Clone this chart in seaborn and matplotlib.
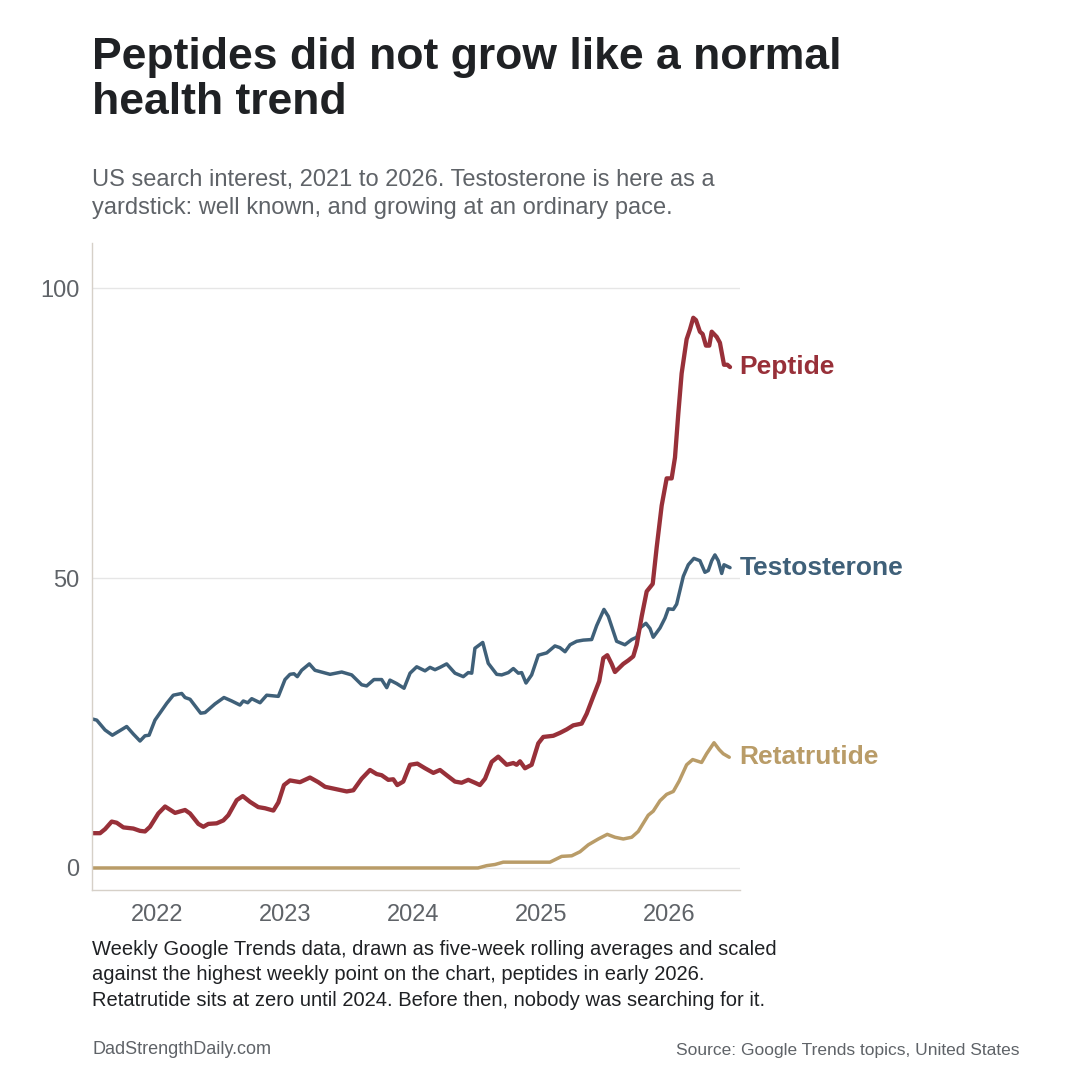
import pandas as pd
import matplotlib.pyplot as plt
import seaborn as sns
from matplotlib import font_manager

# --- Data (x in decimal years, y = search interest) ---

testo_year = [2021.494, 2021.529, 2021.594, 2021.651, 2021.711, 2021.763, 2021.815, 2021.867,
              2021.906, 2021.938, 2021.984, 2022.076, 2022.127, 2022.193, 2022.219, 2022.258,
              2022.341, 2022.375, 2022.453, 2022.523, 2022.584, 2022.648, 2022.674, 2022.709,
              2022.740, 2022.805, 2022.857, 2022.948, 2023.000, 2023.039, 2023.070, 2023.096,
              2023.130, 2023.190, 2023.234, 2023.352, 2023.443, 2023.521, 2023.599, 2023.638,
              2023.695, 2023.755, 2023.795, 2023.820, 2023.873, 2023.930, 2023.977, 2024.029,
              2024.094, 2024.133, 2024.172, 2024.211, 2024.263, 2024.328, 2024.393, 2024.432,
              2024.459, 2024.484, 2024.545, 2024.588, 2024.654, 2024.693, 2024.745, 2024.784,
              2024.823, 2024.849, 2024.883, 2024.927, 2024.979, 2025.045, 2025.109, 2025.148,
              2025.188, 2025.227, 2025.279, 2025.330, 2025.396, 2025.435, 2025.492, 2025.526,
              2025.591, 2025.656, 2025.709, 2025.748, 2025.773, 2025.820, 2025.852, 2025.877,
              2025.930, 2025.969, 2025.995, 2026.034, 2026.060, 2026.112, 2026.151, 2026.195,
              2026.242, 2026.281, 2026.307, 2026.334, 2026.359, 2026.385, 2026.412, 2026.430,
              2026.477]
testo_val = [25.7, 25.5, 23.8, 22.9, 23.7, 24.4, 23.1, 21.9,
             22.8, 22.9, 25.5, 28.4, 29.8, 30.1, 29.4, 29.1,
             26.7, 26.8, 28.3, 29.4, 28.8, 28.1, 28.8, 28.5,
             29.2, 28.5, 29.8, 29.6, 32.5, 33.4, 33.5, 33.0,
             34.1, 35.2, 34.1, 33.4, 33.8, 33.3, 31.6, 31.4,
             32.5, 32.5, 31.1, 32.4, 31.8, 31.0, 33.6, 34.7,
             34.0, 34.6, 34.2, 34.6, 35.2, 33.6, 33.0, 33.7,
             33.6, 37.9, 38.9, 35.3, 33.4, 33.3, 33.7, 34.4,
             33.6, 33.7, 31.9, 33.3, 36.7, 37.1, 38.3, 38.0,
             37.3, 38.5, 39.1, 39.3, 39.4, 41.8, 44.6, 43.4,
             39.1, 38.5, 39.4, 39.8, 41.4, 42.2, 41.3, 39.8,
             41.4, 43.1, 44.7, 44.6, 45.5, 50.3, 52.3, 53.4,
             53.0, 51.0, 51.3, 53.0, 54.0, 53.0, 50.8, 52.3,
             51.8]

pep_year = [2021.494, 2021.555, 2021.594, 2021.646, 2021.685, 2021.737, 2021.815, 2021.867,
            2021.906, 2021.945, 2022.010, 2022.063, 2022.141, 2022.219, 2022.258, 2022.323,
            2022.362, 2022.401, 2022.466, 2022.518, 2022.557, 2022.623, 2022.670, 2022.727,
            2022.791, 2022.844, 2022.909, 2022.948, 2022.992, 2023.039, 2023.117, 2023.195,
            2023.260, 2023.313, 2023.377, 2023.482, 2023.534, 2023.599, 2023.664, 2023.716,
            2023.755, 2023.807, 2023.846, 2023.877, 2023.924, 2023.977, 2024.034, 2024.094,
            2024.159, 2024.211, 2024.263, 2024.328, 2024.380, 2024.432, 2024.484, 2024.523,
            2024.563, 2024.615, 2024.666, 2024.732, 2024.784, 2024.810, 2024.836, 2024.875,
            2024.927, 2024.979, 2025.018, 2025.096, 2025.148, 2025.201, 2025.252, 2025.318,
            2025.357, 2025.409, 2025.455, 2025.487, 2025.518, 2025.552, 2025.578, 2025.643,
            2025.682, 2025.721, 2025.748, 2025.787, 2025.826, 2025.873, 2025.904, 2025.943,
            2025.982, 2026.021, 2026.047, 2026.073, 2026.099, 2026.138, 2026.164, 2026.190,
            2026.211, 2026.242, 2026.263, 2026.289, 2026.315, 2026.334, 2026.373, 2026.398,
            2026.430, 2026.456, 2026.477]
pep_val = [6.0, 6.0, 6.7, 8.0, 7.8, 7.0, 6.8, 6.4,
           6.3, 7.1, 9.4, 10.6, 9.5, 10.0, 9.4, 7.6,
           7.1, 7.6, 7.7, 8.2, 9.1, 11.7, 12.4, 11.4,
           10.5, 10.3, 9.9, 11.3, 14.3, 15.1, 14.8, 15.6,
           14.8, 14.0, 13.7, 13.2, 13.4, 15.4, 16.9, 16.2,
           16.0, 15.2, 15.3, 14.3, 14.9, 17.8, 18.0, 17.2,
           16.4, 16.9, 16.0, 14.9, 14.7, 15.2, 14.7, 14.3,
           15.4, 18.3, 19.2, 17.8, 18.1, 17.8, 18.4, 17.2,
           17.8, 21.5, 22.6, 22.8, 23.3, 23.9, 24.6, 24.9,
           26.6, 29.6, 32.2, 36.2, 36.7, 35.2, 33.8, 35.2,
           35.8, 36.5, 38.5, 43.4, 47.7, 49.0, 55.3, 62.5,
           67.2, 67.2, 70.8, 78.4, 85.3, 91.2, 92.9, 94.9,
           94.5, 92.5, 92.1, 90.1, 90.1, 92.5, 91.6, 90.6,
           86.8, 86.8, 86.4]

reta_year = [2021.494, 2024.508, 2024.576, 2024.641, 2024.705, 2025.070, 2025.162, 2025.240,
             2025.305, 2025.370, 2025.448, 2025.518, 2025.578, 2025.643, 2025.709, 2025.760,
             2025.838, 2025.877, 2025.930, 2025.982, 2026.034, 2026.080, 2026.138, 2026.185,
             2026.255, 2026.294, 2026.352, 2026.393, 2026.424, 2026.471]
reta_val = [0.0, 0.0, 0.4, 0.6, 1.0, 1.0, 2.0, 2.1,
            2.8, 4.0, 5.0, 5.8, 5.3, 5.0, 5.3, 6.3,
            9.1, 9.8, 11.6, 12.7, 13.2, 15.0, 17.8, 18.7,
            18.2, 19.7, 21.6, 20.4, 19.7, 19.1]

series_names = ['Testosterone', 'Retatrutide', 'Peptide']
series_colors = {'Peptide': '#983039', 'Testosterone': '#3f6079', 'Retatrutide': '#b99c68'}
series_widths = {'Peptide': 3.1, 'Testosterone': 2.5, 'Retatrutide': 2.5}
year_ticks = [2022, 2023, 2024, 2025, 2026]
value_ticks = [0, 50, 100]

title = 'Peptides did not grow like a normal\nhealth trend'
subtitle = ('US search interest, 2021 to 2026. Testosterone is here as a\n'
            'yardstick: well known, and growing at an ordinary pace.')
note = ('Weekly Google Trends data, drawn as five-week rolling averages and scaled\n'
        'against the highest weekly point on the chart, peptides in early 2026.\n'
        'Retatrutide sits at zero until 2024. Before then, nobody was searching for it.')

frames = {
    'Testosterone': pd.DataFrame({'year': testo_year, 'interest': testo_val}),
    'Retatrutide': pd.DataFrame({'year': reta_year, 'interest': reta_val}),
    'Peptide': pd.DataFrame({'year': pep_year, 'interest': pep_val}),
}

# --- Style ---
sns.set_theme(style='white')
installed = {f.name for f in font_manager.fontManager.ttflist}
narrow = 'Liberation Sans Narrow' if 'Liberation Sans Narrow' in installed else 'Liberation Sans'
plt.rcParams['font.family'] = ['Liberation Sans', 'DejaVu Sans']

W = 1080
fig = plt.figure(figsize=(10.8, 10.8), dpi=100)
fig.patch.set_facecolor('white')
ax = fig.add_axes([92 / W, 190 / W, 648 / W, 647 / W])

for name in series_names:
    df = frames[name]
    sns.lineplot(data=df, x='year', y='interest', ax=ax, color=series_colors[name],
                 linewidth=series_widths[name], estimator=None, sort=False,
                 solid_joinstyle='round', solid_capstyle='round')
    ax.annotate(name, xy=(df['year'].iloc[-1], df['interest'].iloc[-1]),
                xytext=(7, 0), textcoords='offset points', va='center', ha='left',
                fontsize=19, fontweight='bold', color=series_colors[name],
                annotation_clip=False)

ax.set_xlim(2021.492, 2026.555)
ax.set_ylim(-3.8, 107.8)
ax.set_xticks(year_ticks)
ax.set_xticklabels([str(y) for y in year_ticks])
ax.set_yticks(value_ticks)
ax.set_yticklabels([str(v) for v in value_ticks])
ax.set_xlabel('')
ax.set_ylabel('')
ax.grid(axis='y', color='#e6e6e6', linewidth=1)
ax.set_axisbelow(True)
for side in ['top', 'right']:
    ax.spines[side].set_visible(False)
for side in ['left', 'bottom']:
    ax.spines[side].set_color('#d6d0c8')
    ax.spines[side].set_linewidth(1)
ax.tick_params(axis='both', length=0, labelsize=17, labelcolor='#5f6368')
ax.tick_params(axis='x', pad=10)
ax.tick_params(axis='y', pad=9)
for lab in ax.get_xticklabels() + ax.get_yticklabels():
    lab.set_family([narrow, 'DejaVu Sans'])

# --- Text ---
fig.text(92 / W, 1 - 37 / W, title, fontsize=32, fontweight='bold', color='#1f2124',
         va='top', ha='left', linespacing=1.14)
fig.text(92 / W, 1 - 169 / W, subtitle, fontsize=17, color='#5f6368', va='top', ha='left',
         linespacing=1.34, family=[narrow, 'DejaVu Sans'])
fig.text(92 / W, 1 - 940 / W, note, fontsize=14.5, color='#1f2124', va='top', ha='left',
         linespacing=1.42, family=[narrow, 'DejaVu Sans'])
fig.text(92 / W, 1 - 1050 / W, 'DadStrengthDaily.com', fontsize=13, color='#5f6368',
         va='center', ha='left', family=[narrow, 'DejaVu Sans'])
fig.text(1020 / W, 1 - 1050 / W, 'Source: Google Trends topics, United States', fontsize=12.5,
         color='#5f6368', va='center', ha='right')

fig.savefig('out.png', dpi=100)
